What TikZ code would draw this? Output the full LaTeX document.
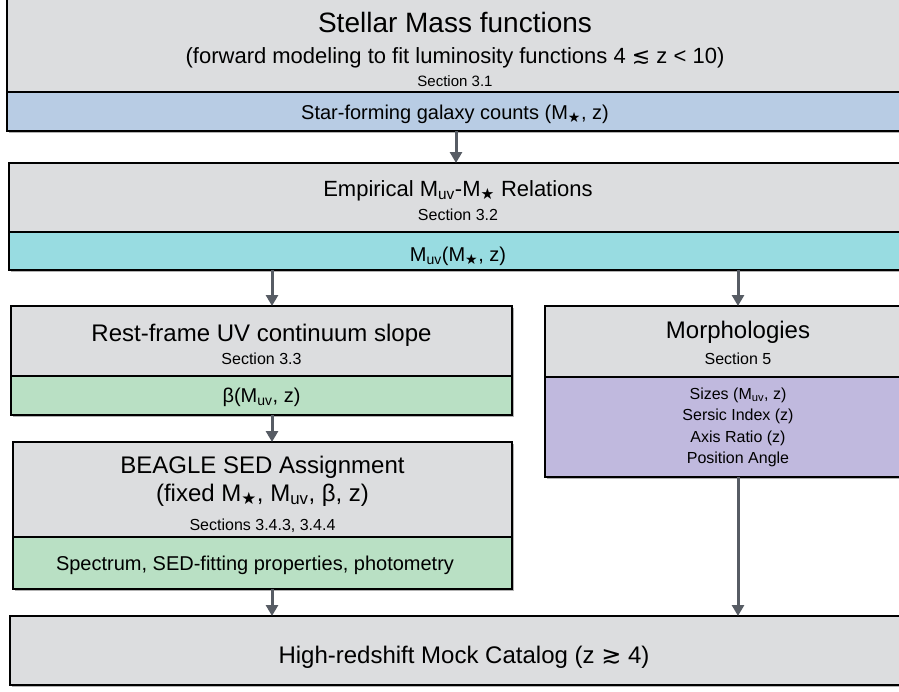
\documentclass[tikz,border=0pt]{standalone}
\usepackage{fontspec}
\setmainfont{Liberation Sans}
\newfontfamily\symfont{DejaVu Sans}
\usetikzlibrary{arrows.meta,shadows}
\definecolor{boxgray}{HTML}{DCDDDF}
\definecolor{bandblue}{HTML}{B8CCE4}
\definecolor{bandcyan}{HTML}{98DCE1}
\definecolor{bandgreen}{HTML}{B9E0C4}
\definecolor{bandpurple}{HTML}{C0B9DE}
\definecolor{arrowgray}{HTML}{575C64}
\newcommand{\Mst}{M\textsubscript{\symfont ★}}
\newcommand{\Muv}{M\textsubscript{uv}}
\newcommand{\fs}[1]{\fontsize{#1}{#1}\selectfont}
\tikzset{
  part/.style={draw=black, line width=2pt, inner sep=0pt, outer sep=0pt, anchor=north west,
    drop shadow={shadow xshift=1.5pt, shadow yshift=-1.5pt, opacity=0.3, fill=black}},
  txt/.style={anchor=base, inner sep=0pt, align=center},
  ttl/.style={txt, font=\fs{24}},
  sect/.style={txt, font=\fs{16}},
  bandtxt/.style={txt, font=\fs{20}},
  arr/.style={draw=arrowgray, line width=3pt, -{Triangle[width=12pt,length=11pt]}}
}
\begin{document}
\begin{tikzpicture}[x=1pt,y=-1pt]
\useasboundingbox (0,0) rectangle (899,691);
\clip (0,0) rectangle (899,691);

% Stellar mass functions
\node[part, fill=boxgray, minimum width=905pt, minimum height=97pt] (smf) at (7,-5) {};
\node[part, fill=bandblue, minimum width=905pt, minimum height=39pt] (smfband) at (smf.south west) {};
\node[txt, font=\fs{28}] (smft) at (455,32) {Stellar Mass functions};
\node[txt, font=\fs{22}] (smfs) at (455,63) {(forward modeling to fit luminosity functions 4 {\symfont ≲} z < 10)};
\node[txt, font=\fs{15}] (smfsec) at (455,86) {Section 3.1};
\node[bandtxt] (smfb) at (455,119) {Star-forming galaxy counts (\Mst, z)};

% Empirical relations
\node[part, fill=boxgray, minimum width=900pt, minimum height=69pt] (emp) at (9,163) {};
\node[part, fill=bandcyan, minimum width=900pt, minimum height=38pt] (empband) at (emp.south west) {};
\node[txt, font=\fs{22}] (empt) at (458,196) {Empirical \Muv-\Mst{} Relations};
\node[sect] (empsec) at (458,220) {Section 3.2};
\node[bandtxt] (empb) at (458,261) {\Muv(\Mst, z)};

% Rest-frame UV slope
\node[part, fill=boxgray, minimum width=501pt, minimum height=70pt] (rf) at (11,306) {};
\node[part, fill=bandgreen, minimum width=501pt, minimum height=39pt] (rfband) at (rf.south west) {};
\node[ttl] (rft) at (261.5,341) {Rest-frame UV continuum slope};
\node[sect] (rfsec) at (261.5,364) {Section 3.3};
\node[bandtxt] (rfb) at (261.5,402) {β(\Muv, z)};

% Morphologies
\node[part, fill=boxgray, minimum width=400pt, minimum height=71pt] (mor) at (545,306) {};
\node[part, fill=bandpurple, minimum width=400pt, minimum height=100pt] (morband) at (mor.south west) {};
\node[ttl] (mort) at (738,338) {Morphologies};
\node[sect] (morsec) at (738,364) {Section 5};
\node[sect] (mor1) at (738,399) {Sizes (\Muv, z)};
\node[sect] (mor2) at (738,420) {Sersic Index (z)};
\node[sect] (mor3) at (738,442) {Axis Ratio (z)};
\node[sect] (mor4) at (738,463) {Position Angle};

% BEAGLE
\node[part, fill=boxgray, minimum width=499pt, minimum height=95pt] (bg) at (13,442) {};
\node[part, fill=bandgreen, minimum width=499pt, minimum height=52pt] (bgband) at (bg.south west) {};
\node[ttl] (bgt) at (262.5,473) {BEAGLE SED Assignment};
\node[ttl] (bgs) at (262.5,501) {(fixed \Mst, \Muv, β, z)};
\node[sect] (bgsec) at (262.5,530) {Sections 3.4.3, 3.4.4};
\node[bandtxt] (bgb) at (255,570) {Spectrum, SED-fitting properties, photometry};

% Mock catalog
\node[part, fill=boxgray, minimum width=900pt, minimum height=69pt] (mock) at (10,616) {};
\node[ttl] (mockt) at (464,663) {High-redshift Mock Catalog (z {\symfont ≳} 4)};

% arrow columns
\coordinate (cA) at (456,0);
\coordinate (cL) at (272,0);
\coordinate (cR) at (738,0);

\draw[arr] (smfband.south -| cA) -- (emp.north -| cA);
\draw[arr] (empband.south -| cL) -- (rf.north -| cL);
\draw[arr] (empband.south -| cR) -- (mor.north -| cR);
\draw[arr] (rfband.south -| cL) -- (bg.north -| cL);
\draw[arr] (bgband.south -| cL) -- (mock.north -| cL);
\draw[arr] (morband.south -| cR) -- (mock.north -| cR);
\end{tikzpicture}
\end{document}
